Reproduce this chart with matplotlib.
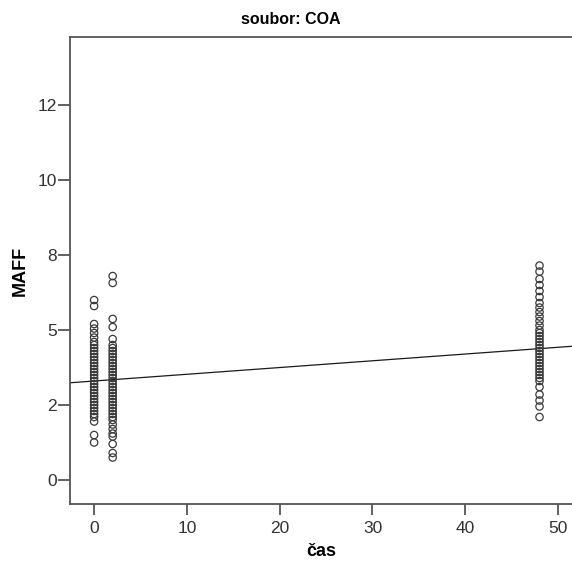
import numpy as np
import matplotlib
matplotlib.use('Agg')
import matplotlib.pyplot as plt

plt.rcParams['font.family'] = ['Liberation Sans', 'DejaVu Sans']

# MAFF values read per time point (čas)
maff_t0 = [6.0, 5.8, 5.2, 5.05, 4.9, 4.75, 4.6, 4.5, 4.4, 4.3, 4.2, 4.1, 4.0, 3.9,
           3.8, 3.7, 3.6, 3.5, 3.4, 3.3, 3.2, 3.1, 3.0, 2.9, 2.8, 2.7, 2.6, 2.5,
           2.4, 2.3, 2.2, 2.1, 1.95, 1.5, 1.25]
maff_t2 = [6.8, 6.57, 5.37, 5.1, 4.7, 4.5, 4.4, 4.3, 4.2, 4.1, 4.0, 3.9, 3.8, 3.7,
           3.6, 3.5, 3.4, 3.3, 3.2, 3.1, 3.0, 2.9, 2.8, 2.7, 2.6, 2.5, 2.4, 2.3,
           2.2, 2.1, 2.0, 1.85, 1.7, 1.55, 1.45, 1.2, 0.9, 0.75]
maff_t48 = [7.15, 6.95, 6.7, 6.5, 6.3, 6.1, 5.9, 5.75, 5.6, 5.45, 5.3, 5.15, 5.0,
            4.9, 4.8, 4.7, 4.6, 4.5, 4.4, 4.3, 4.2, 4.1, 4.0, 3.9, 3.8, 3.7, 3.6,
            3.5, 3.4, 3.3, 3.1, 2.85, 2.65, 2.45, 2.1]
times = [0, 2, 48]

# fitted line
fit_intercept = 3.3
fit_slope = 0.0225

ytick_vals = [0, 2.5, 5, 7.5, 10, 12.5]
ytick_labels = ['0', '2', '5', '8', '10', '12']
xtick_vals = [0, 10, 20, 30, 40, 50]

fig = plt.figure(figsize=(5.72, 5.65), dpi=100)
ax = fig.add_axes([70 / 572, (565 - 504) / 565, 1 - 70 / 572, (504 - 37) / 565])

for t, vals in zip(times, [maff_t0, maff_t2, maff_t48]):
    ax.scatter([t] * len(vals), vals, s=28, facecolors='none',
               edgecolors='#3a3a3a', linewidths=0.9, zorder=3)

xlim = (-2.6, 51.5)
xl = np.array(xlim)
ax.plot(xl, fit_intercept + fit_slope * xl, color='#1a1a1a', lw=0.9, zorder=2)

ax.set_xlim(*xlim)
ax.set_ylim(-0.8, 14.77)
ax.set_xticks(xtick_vals)
ax.set_yticks(ytick_vals)
ax.set_yticklabels(ytick_labels)

for side in ['left', 'top', 'bottom']:
    ax.spines[side].set_color('#555555')
    ax.spines[side].set_linewidth(1.3)
ax.spines['right'].set_visible(False)

ax.tick_params(axis='y', direction='out', length=8.5, width=1.3,
               color='#555555', labelsize=12.5, labelcolor='#333333', pad=1)
ax.tick_params(axis='x', direction='out', length=8, width=1.3,
               color='#555555', labelsize=12.5, labelcolor='#333333', pad=4)

ax.set_xlabel('čas', fontsize=13, fontweight='bold', labelpad=5)
ax.set_ylabel('MAFF', fontsize=13, fontweight='bold', labelpad=6)
fig.text(0.508, 0.966, 'soubor: COA', ha='center', va='center',
         fontsize=11.5, fontweight='bold')

fig.savefig('out.png', dpi=100)
